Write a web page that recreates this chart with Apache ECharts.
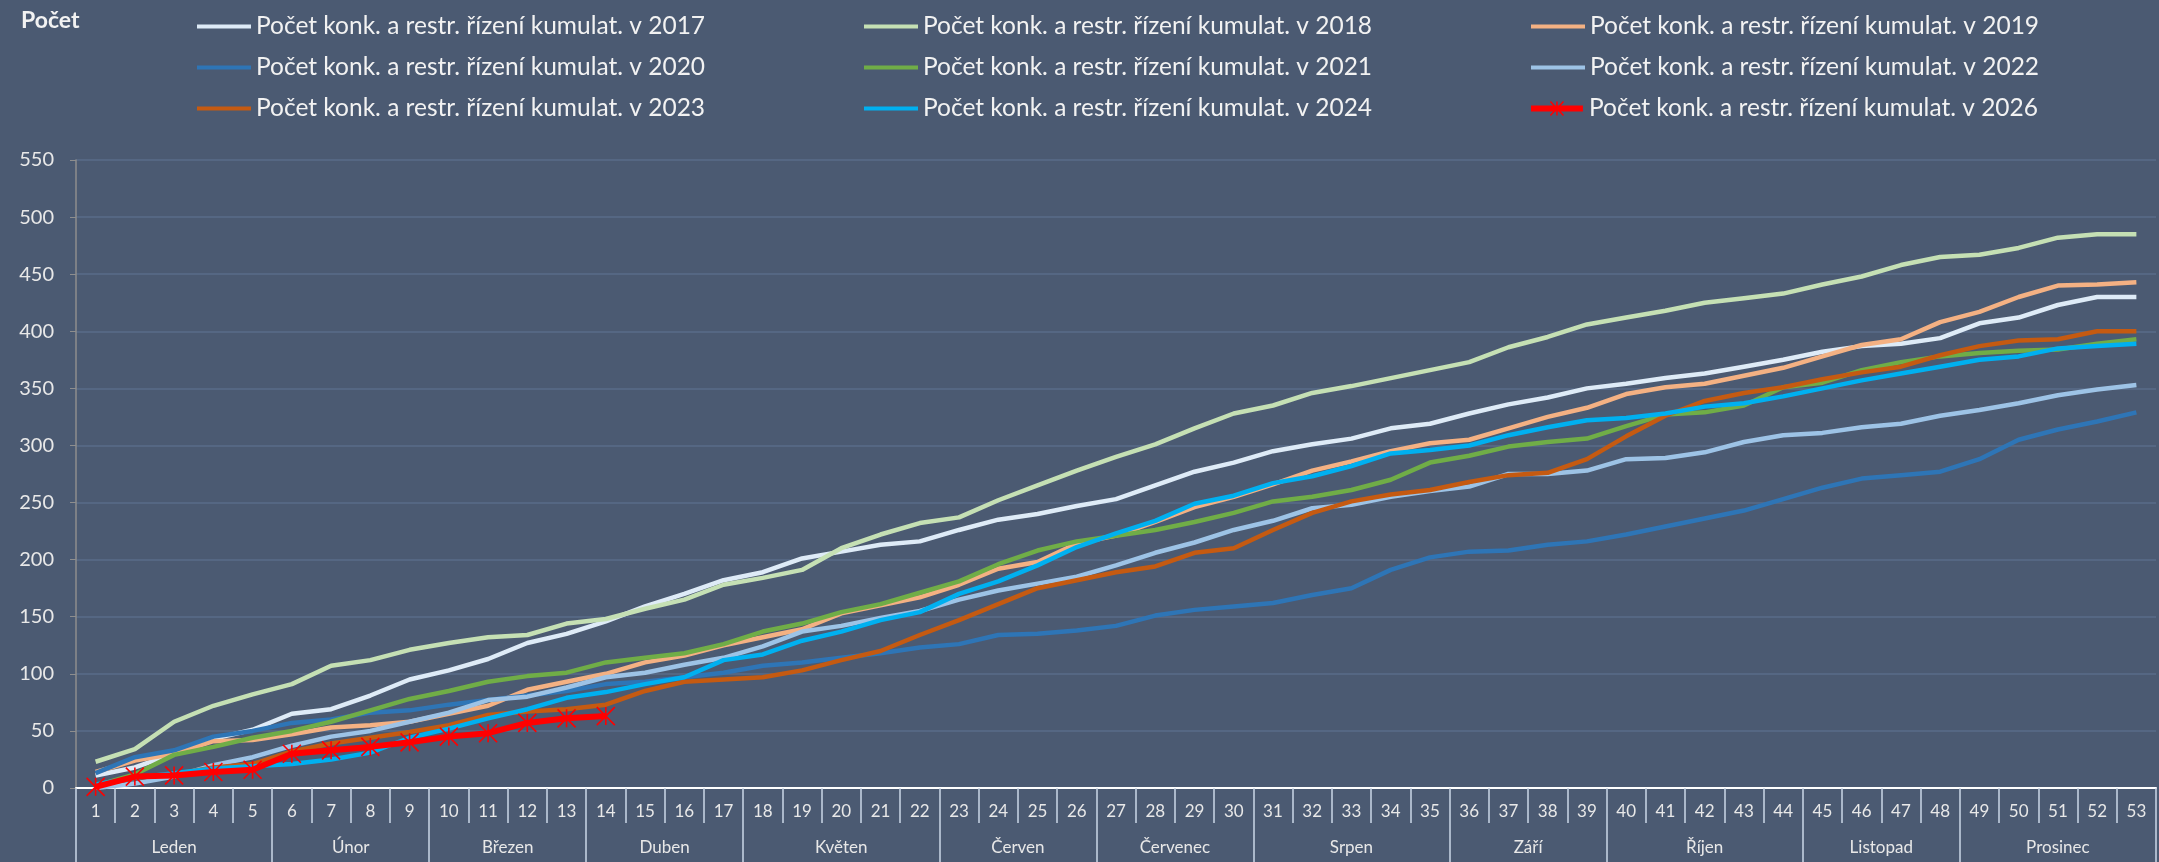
<!DOCTYPE html>
<html lang="cs">
<head>
<meta charset="utf-8">
<title>Počet konk. a restr. řízení kumulat.</title>
<script src="https://cdn.jsdelivr.net/npm/echarts@6.0.0/dist/echarts.min.js"></script>
<style>
	html, body { margin: 0; padding: 0; background: #4b5a72; }
	#chart { width: 2159px; height: 862px; }
</style>
</head>
<body>
<div id="chart"></div>
<script>
// week numbers on the x axis
const weeks = ['1','2','3','4','5','6','7','8','9','10','11','12','13','14','15','16','17','18','19','20',
	'21','22','23','24','25','26','27','28','29','30','31','32','33','34','35','36','37','38','39','40',
	'41','42','43','44','45','46','47','48','49','50','51','52','53']

// month groups under the week numbers
const months = ['Leden', 'Únor', 'Březen', 'Duben', 'Květen', 'Červen', 'Červenec', 'Srpen', 'Září', 'Říjen', 'Listopad', 'Prosinec']
const monthFirstWeek = [1, 6, 10, 14, 18, 23, 27, 31, 36, 40, 45, 49]
const monthLastWeek = [5, 9, 13, 17, 22, 26, 30, 35, 39, 44, 48, 53]

// cumulative counts per week
const y2017 = [11,18,30,43,51,65,69,81,95,103,113,127,135,146,159,170,182,189,201,207,213,216,226,235,240,247,253,265,277,285,295,301,306,315,319,328,336,342,350,354,359,363,369,375,382,387,389,394,407,412,423,430,430]
const y2018 = [23,34,58,72,82,91,107,112,121,127,132,134,144,148,157,165,178,184,191,210,222,232,237,252,265,278,290,301,315,328,335,346,352,359,366,373,386,395,406,412,418,425,429,433,441,448,458,465,467,473,482,485,485]
const y2019 = [14,24,30,41,42,47,53,55,58,65,72,86,93,100,110,116,125,132,139,153,160,167,178,192,198,214,221,233,246,255,266,278,286,295,302,305,315,325,333,345,351,354,361,368,378,388,393,408,417,430,440,441,443]
const y2020 = [13,27,33,45,50,57,60,66,68,73,77,81,85,91,93,97,101,107,110,114,118,123,126,134,135,138,142,151,156,159,162,169,175,191,202,207,208,213,216,222,229,236,243,253,263,271,274,277,288,305,314,321,329]
const y2021 = [2,12,29,36,44,50,58,68,78,85,93,98,101,110,114,118,126,137,144,154,161,171,181,196,208,216,221,226,233,241,251,255,261,270,285,291,299,303,306,317,327,329,335,351,355,366,373,378,381,383,384,389,393]
const y2022 = [0,4,10,20,27,37,45,50,58,66,77,80,88,97,101,108,114,124,137,142,149,155,165,173,179,185,195,206,215,226,234,245,248,255,260,264,275,275,278,288,289,294,303,309,311,316,319,326,331,337,344,349,353]
const y2023 = [2,9,12,18,21,32,39,44,49,55,64,67,69,73,85,93,95,97,103,112,120,134,147,161,175,182,189,194,206,210,226,241,251,257,261,268,274,276,288,308,326,339,346,351,358,364,369,379,387,392,393,400,400]
const y2024 = [3,9,13,17,19,21,25,31,44,52,61,69,79,84,91,97,112,117,129,137,147,154,170,181,195,211,223,234,249,256,267,273,282,293,296,300,309,316,322,324,328,334,337,343,350,357,363,369,375,378,385,387,389]
const y2026 = [1,10,11,14,16,30,33,36,40,45,48,57,61,63]

const years = ['2017', '2018', '2019', '2020', '2021', '2022', '2023', '2024', '2026']
const yearData = [y2017, y2018, y2019, y2020, y2021, y2022, y2023, y2024, y2026]
const yearColors = ['#DEEBF7', '#C5E0B4', '#F4B183', '#2E75B6', '#70AD47', '#9DC3E6', '#C55A11', '#00B0F0', '#FF0000']

// asterisk marker like the Excel "star" marker
const starPath = 'path://M0 0L10 10M10 0L0 10M5 0L5 10'
const legendLine = 'path://M0 0H54V4H0Z'
const legendLineStar = 'path://M0 5H54V10H0ZM20 0L34 15M34 0L20 15M27 0L27 15'

// month axis: half-week slots from 0.5 to 53.5, label in the middle of each month
const monthSlots = []
for (let j = 0; j <= weeks.length * 2; j++) monthSlots.push('')
const monthEdges = new Set()
months.forEach((m, k) => {
	monthSlots[monthFirstWeek[k] + monthLastWeek[k] - 1] = m
	monthEdges.add(monthFirstWeek[k] * 2 - 2)
	monthEdges.add(monthLastWeek[k] * 2)
})

const chart = echarts.init(document.getElementById('chart'))

const legendData = []
const series = years.map((year, i) => {
	const isCurrent = year === '2026'
	const name = 'Počet konk. a restr. řízení kumulat. v ' + year
	legendData.push({
		name: name,
		icon: isCurrent ? legendLineStar : legendLine,
		itemStyle: { color: yearColors[i], borderColor: yearColors[i], borderWidth: isCurrent ? 1.5 : 0 }
	})
	return {
		name: name,
		type: 'line',
		data: yearData[i],
		xAxisIndex: 0,
		symbol: isCurrent ? starPath : 'none',
		symbolSize: isCurrent ? 18 : 0,
		showSymbol: isCurrent,
		lineStyle: { color: yearColors[i], width: isCurrent ? 6 : 4.5 },
		itemStyle: { color: yearColors[i], borderColor: yearColors[i], borderWidth: isCurrent ? 1.6 : 0 },
		z: 2 + i
	}
})

const option = {
	animation: false,
	backgroundColor: '#4b5a72',
	textStyle: { fontFamily: 'Lato' },
	title: {
		text: 'Počet',
		left: 16,
		top: 4,
		textStyle: { color: '#F2F2F2', fontSize: 23, fontWeight: 'bold', fontFamily: 'Lato' }
	},
	legend: {
		data: legendData,
		left: 192,
		top: 9,
		width: 1990,
		itemWidth: 54,
		itemHeight: 14,
		itemGap: 16,
		textStyle: { color: '#F2F2F2', fontSize: 24.5, width: 592, lineHeight: 22 }
	},
	grid: {
		left: 76,
		right: 1,
		top: 160,
		bottom: 74
	},
	xAxis: [
		{
			type: 'category',
			position: 'bottom',
			data: weeks,
			boundaryGap: true,
			axisLine: { lineStyle: { color: '#FFFFFF', width: 2 } },
			axisTick: { show: true, interval: 0, length: 35, lineStyle: { color: '#CCD8E8', width: 1.5 } },
			axisLabel: { interval: 0, color: '#E8E8E8', fontSize: 17, margin: 15 },
			splitLine: { show: false }
		},
		{
			type: 'category',
			position: 'bottom',
			data: monthSlots,
			boundaryGap: false,
			axisLine: { show: false },
			axisTick: {
				show: true,
				length: 74,
				interval: (idx) => monthEdges.has(idx),
				lineStyle: { color: '#CCD8E8', width: 1.5 }
			},
			axisLabel: { interval: 0, color: '#E8E8E8', fontSize: 17, margin: 51 },
			splitLine: { show: false }
		}
	],
	yAxis: {
		type: 'value',
		min: 0,
		max: 550,
		interval: 50,
		axisLine: { show: true, lineStyle: { color: '#8E8E8E', width: 1.5 } },
		axisTick: { show: true, length: 6, lineStyle: { color: '#8E8E8E' } },
		axisLabel: { color: '#E8E8E8', fontSize: 20, margin: 22 },
		splitLine: { lineStyle: { color: '#586C8A', width: 1.5 } }
	},
	series: series
}

chart.setOption(option)
</script>
</body>
</html>
